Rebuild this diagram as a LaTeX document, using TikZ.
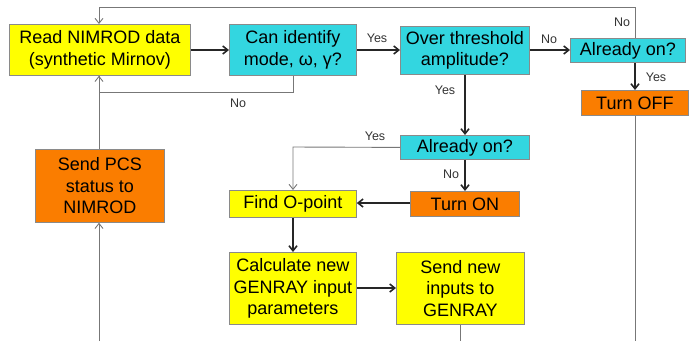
\documentclass[tikz,border=0pt]{standalone}
\usepackage{fontspec}
\setmainfont{Liberation Sans}
\usetikzlibrary{arrows.meta}
\definecolor{boxyellow}{HTML}{FFFF00}
\definecolor{boxcyan}{HTML}{33D6E0}
\definecolor{boxorange}{HTML}{FA7D00}
\definecolor{edgegray}{HTML}{8A8A8A}
\definecolor{wiregray}{HTML}{777777}
\begin{document}
\begin{tikzpicture}[x=1pt,y=-1pt,
  box/.style={draw=edgegray,line width=0.8pt,inner sep=0pt,align=center,
    font=\fontsize{18}{21.5}\selectfont,anchor=north west},
  yel/.style={box,fill=boxyellow},
  cya/.style={box,fill=boxcyan},
  ora/.style={box,fill=boxorange},
  main/.style={-{Straight Barb[length=5pt,width=8pt]},line width=1.6pt,black!85},
  wire/.style={line width=0.9pt,wiregray},
  wirearrow/.style={wire,-{Straight Barb[length=5pt,width=8pt]},},
  lab/.style={font=\fontsize{12.5}{14}\selectfont,text=black!80,inner sep=0pt}]
\useasboundingbox (0,0) rectangle (693,341);

% boxes, given by their corners
\node[yel,minimum width=181pt,minimum height=51pt] (read) at (9,24) {Read NIMROD data\\(synthetic Mirnov)};
\node[cya,minimum width=127pt,minimum height=51pt] (ident) at (229,24) {Can identify\\mode, ω, γ?};
\node[cya,minimum width=129pt,minimum height=48pt] (thresh) at (400,26) {Over threshold\\amplitude?};
\node[cya,minimum width=115pt,minimum height=24pt] (onA) at (570,38) {Already on?};
\node[ora,minimum width=107pt,minimum height=25pt] (off) at (581,90) {Turn OFF};
\node[ora,minimum width=129pt,minimum height=73pt] (pcs) at (35,149) {Send PCS\\status to\\NIMROD};
\node[cya,minimum width=129pt,minimum height=24pt] (onB) at (400,135) {Already on?};
\node[ora,minimum width=109pt,minimum height=25pt] (on) at (410,191) {Turn ON};
\node[yel,minimum width=127pt,minimum height=27pt] (opt) at (229,190) {Find O-point};
\node[yel,minimum width=127pt,minimum height=72pt] (calc) at (229,252) {Calculate new\\GENRAY input\\parameters};
\node[yel,minimum width=128pt,minimum height=72pt] (send) at (396,252) {Send new\\inputs to\\GENRAY};

% free ends at the lower border
\coordinate (botL) at (99,341);
\coordinate (botR) at (635,341);
\coordinate (botS) at (460,341);

% thin gray wires
\draw[wirearrow] (onA.north -| botR) -- (635,7) -- (99,7) -- (read.north -| botL);
\draw[wirearrow] (ident.south -| 293,0) -- (293,92) -- (99,92) -- (read.south -| botL);
\draw[wire] (pcs.north -| botL) -- (read.south -| botL);
\draw[wirearrow] (botL) -- (pcs.south -| botL);
\draw[wire] (off.south -| botR) -- (botR);
\draw[wirearrow] (onB.west) -- (293,147) -- (opt.north -| 293,0);
\draw[wire] (send.south -| botS) -- (botS);

% main flow
\draw[main] (read.east |- 0,50) -- (ident.west |- 0,50);
\draw[main] (ident.east |- 0,50) -- (thresh.west |- 0,50);
\draw[main] (thresh.east |- 0,50) -- (onA.west |- 0,50);
\draw[main] (onA.south -| botR) -- (off.north -| botR);
\draw[main] (thresh.south -| 465,0) -- (onB.north -| 465,0);
\draw[main] (onB.south -| 465,0) -- (on.north -| 465,0);
\draw[main] (on.west |- 0,203) -- (opt.east |- 0,203);
\draw[main] (opt.south -| 293,0) -- (calc.north -| 293,0);
\draw[main] (calc.east |- 0,288) -- (send.west |- 0,288);

% branch labels
\node[lab] (l1) at (238,103) {No};
\node[lab] (l2) at (377,38) {Yes};
\node[lab] (l3) at (549,39) {No};
\node[lab] (l4) at (622,22) {No};
\node[lab] (l5) at (656,77) {Yes};
\node[lab] (l6) at (445,90) {Yes};
\node[lab] (l7) at (375,136) {Yes};
\node[lab] (l8) at (451,174) {No};
\end{tikzpicture}
\end{document}
